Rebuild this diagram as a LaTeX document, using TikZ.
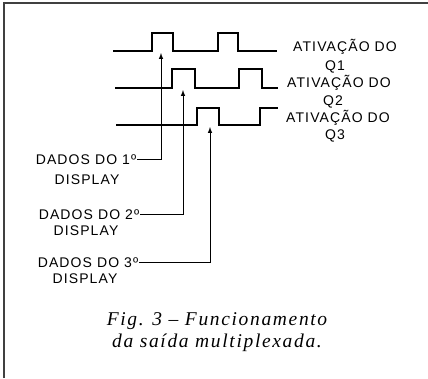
\documentclass[tikz,border=0pt]{standalone}
\usepackage{fontspec}
\newfontfamily\lblfont[LetterSpace=8]{Liberation Sans}
\newfontfamily\capfont[LetterSpace=8.5]{Liberation Serif}

\begin{document}
\begin{tikzpicture}[x=1pt,y=-1pt,
	wave/.style={line width=1.3pt},
	datalink/.style={line width=1pt,-latex},
	lbl/.style={font=\lblfont\fontsize{14}{16}\selectfont, inner sep=1pt, text height=10pt, text depth=0pt},
	captext/.style={font=\capfont\itshape\fontsize{19.5}{22}\selectfont, inner sep=0pt, text height=12.5pt, text depth=0pt}]
	%%%%% START %%%%%
	\useasboundingbox (0,0) rectangle (428,378);
	\draw[line width=1.4pt, black!75] (4,378) -- (4,3) -- (428,3);
	
	% Q1
	\draw[wave] (113,51) -- (152,51) -- (152,33) -- (173,33) -- (173,51) -- (218,51) -- (218,33) -- (238,33) -- (238,51) -- (277,51);
	% Q2
	\draw[wave] (115,88) -- (172,88) -- (172,69) -- (195,69) -- (195,88) -- (239,88) -- (239,69) -- (262,69) -- (262,88) -- (278,88);
	% Q3
	\draw[wave] (116,125) -- (197,125) -- (197,108) -- (219,108) -- (219,125) -- (260,125) -- (260,108) -- (278,108);
	
	\node[lbl] (q1) at (345,46) {ATIVAÇÃO DO};
	\node[lbl] (q1n) at (335,65) {Q1};
	\node[lbl] (q2) at (339,82) {ATIVAÇÃO DO};
	\node[lbl] (q2n) at (333,100) {Q2};
	\node[lbl] (q3) at (338,117) {ATIVAÇÃO DO};
	\node[lbl] (q3n) at (335,134) {Q3};
	
	\coordinate (t1) at (161,53);
	\coordinate (t2) at (183,90);
	\coordinate (t3) at (210,127);
	
	\node[lbl] (d1) at (86,159) {DADOS DO 1º};
	\node[lbl] (d1s) at (87,179) {DISPLAY};
	\node[lbl] (d2) at (89,214) {DADOS DO 2º};
	\node[lbl] (d2s) at (86,230) {DISPLAY};
	\node[lbl] (d3) at (88,262) {DADOS DO 3º};
	\node[lbl] (d3s) at (85,278) {DISPLAY};
	
	\draw[datalink] (d1.east) -| (t1);
	\draw[datalink] (d2.east) -| (t2);
	\draw[datalink] (d3.east) -| (t3);
	
	\node[captext] (cap1) at (217,319) {Fig. 3 – Funcionamento};
	\node[captext] (cap2) at (217,341) {da saída multiplexada.};
	%%%%% END %%%%%
\end{tikzpicture}
\end{document}
